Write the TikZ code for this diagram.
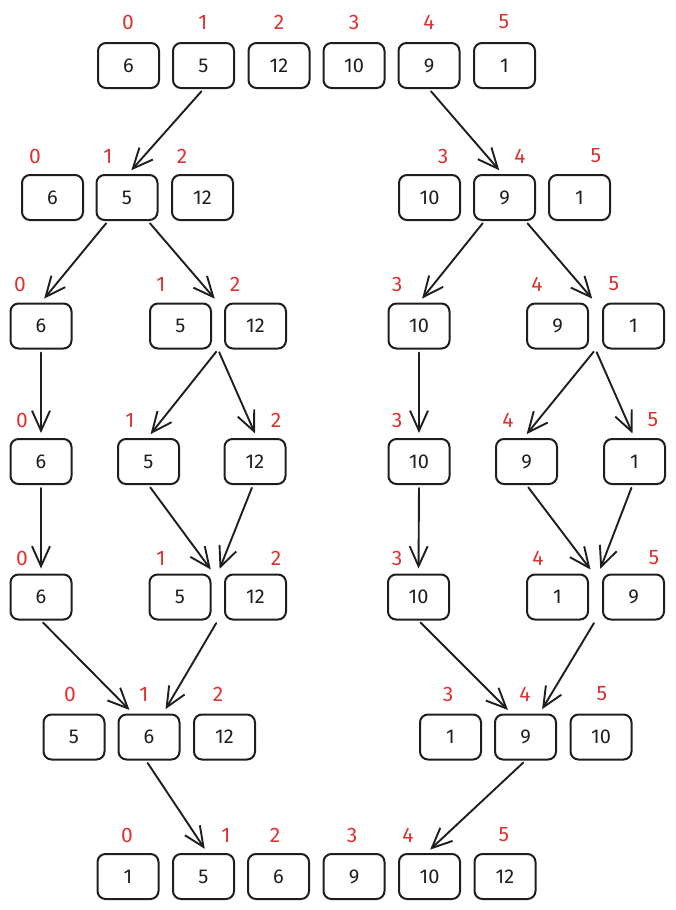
\documentclass[tikz,border=0pt]{standalone}
\usepackage{fontspec}
\setmainfont{Fira Sans}
\usetikzlibrary{arrows.meta,calc}
\definecolor{ink}{HTML}{1E1E1E}
\definecolor{idx}{HTML}{E03131}
\tikzset{
  cell/.style={draw=ink, line width=2pt, rounded corners=8pt, minimum width=61pt, minimum height=45pt, inner sep=0pt, text=ink, font=\fontsize{20}{20}\selectfont},
  lbl/.style={text=idx, inner sep=0pt, font=\fontsize{21}{21}\selectfont},
  conn/.style={draw=ink, line width=1.9pt, line cap=round, -{Straight Barb[length=20pt,width=18pt,line width=1.9pt]}, shorten <=3pt, shorten >=5pt}
}
\begin{document}
\begin{tikzpicture}[x=1pt,y=-1pt]
\useasboundingbox (0,0) rectangle (675,910);
% ---- row 1
\foreach \n/\x/\v in {a0/128.5/6,a1/203.5/5,a2/279/12,a3/354/10,a4/429/9,a5/504.5/1}{
  \node[cell] (\n) at (\x,65.5) {\v};
}
\foreach \n/\x/\t in {la0/128/0,la1/203/1,la2/279/2,la3/354/3,la4/429/4,la5/504/5}{
  \node[lbl] (\n) at (\x,22) {\t};
}
% ---- row 2
\foreach \n/\x/\v in {b0/52.5/6,b1/127/5,b2/202.5/12,b3/429.5/10,b4/504.5/9,b5/579.5/1}{
  \node[cell] (\n) at (\x,197.5) {\v};
}
\foreach \n/\x/\t in {lb0/35/0,lb1/108/1,lb2/182/2,lb3/443/3,lb4/520/4,lb5/596/5}{
  \node[lbl] (\n) at (\x,156) {\t};
}
% ---- row 3
\foreach \n/\x/\v in {c0/41/6,c1/180.5/5,c2/255.5/12,c3/419/10,c4/557.5/9,c5/633.5/1}{
  \node[cell] (\n) at (\x,326) {\v};
}
\foreach \n/\x/\t in {lc0/20/0,lc1/161/1,lc2/235/2,lc3/397/3,lc4/537/4,lc5/614/5}{
  \node[lbl] (\n) at (\x,284) {\t};
}
% ---- row 4
\foreach \n/\x/\v in {d0/41/6,d1/148.5/5,d2/255/12,d3/419/10,d4/526.5/9,d5/634.5/1}{
  \node[cell] (\n) at (\x,461.5) {\v};
}
\foreach \n/\x/\t in {ld0/22/0,ld1/130/1,ld2/276/2,ld3/397/3,ld4/508/4,ld5/653/5}{
  \node[lbl] (\n) at (\x,420) {\t};
}
% ---- row 5
\foreach \n/\x/\v in {e0/41/6,e1/180/5,e2/255.5/12,e3/418.5/10,e4/557.5/1,e5/633.5/9}{
  \node[cell] (\n) at (\x,597) {\v};
}
\foreach \n/\x/\t in {le0/22/0,le1/161/1,le2/276/2,le3/397/3,le4/538/4,le5/654/5}{
  \node[lbl] (\n) at (\x,558) {\t};
}
% ---- row 6
\foreach \n/\x/\v in {f0/74/5,f1/149/6,f2/224.5/12,f3/450.5/1,f4/525.5/9,f5/601/10}{
  \node[cell] (\n) at (\x,737) {\v};
}
\foreach \n/\x/\t in {lf0/70/0,lf1/144/1,lf2/218/2,lf3/448/3,lf4/525/4,lf5/602/5}{
  \node[lbl] (\n) at (\x,694) {\t};
}
% ---- row 7
\foreach \n/\x/\v in {g0/128/1,g1/203.5/5,g2/278.5/6,g3/354/9,g4/429.5/10,g5/505/12}{
  \node[cell] (\n) at (\x,876.5) {\v};
}
\foreach \n/\x/\t in {lg0/127/0,lg1/226/1,lg2/275/2,lg3/352/3,lg4/408/4,lg5/504/5}{
  \node[lbl] (\n) at (\x,835) {\t};
}
% ---- connectors
% row 1 -> row 2
\draw[conn] (a1.south) -- ($(b1.north)+(1,0)$);
\draw[conn] (a4.south) -- ($(b4.north)+(-2,0)$);
% row 2 -> row 3
\draw[conn] ($(b1.south)+(-19,0)$) -- (c0.north);
\draw[conn] ($(b1.south)+(21,0)$) -- ($(c1.north east)!0.5!(c2.north west)$);
\draw[conn] ($(b4.south)+(-20,0)$) -- (c3.north);
\draw[conn] ($(b4.south)+(21,0)$) -- ($(c4.north east)!0.5!(c5.north west)$);
% row 3 -> row 4
\draw[conn] (c0.south) -- (d0.north);
\draw[conn] ($(c1.south east)!0.5!(c2.south west)$) -- ($(d1.north)+(-1,0)$);
\draw[conn] ($(c1.south east)!0.5!(c2.south west)$) -- ($(d2.north)+(2,0)$);
\draw[conn] (c3.south) -- (d3.north);
\draw[conn] ($(c4.south east)!0.5!(c5.south west)$) -- ($(d4.north)+(-3,0)$);
\draw[conn] ($(c4.south east)!0.5!(c5.south west)$) -- (d5.north);
% row 4 -> row 5
\draw[conn] (d0.south) -- (e0.north);
\draw[conn] (d1.south) -- ($(e1.north east)!0.5!(e2.north west)+(-4,0)$);
\draw[conn] ($(d2.south)+(-2,0)$) -- ($(e1.north east)!0.5!(e2.north west)$);
\draw[conn] (d3.south) -- (e3.north);
\draw[conn] (d4.south) -- ($(e4.north east)!0.5!(e5.north west)+(-2,0)$);
\draw[conn] ($(d5.south)+(-2,0)$) -- ($(e4.north east)!0.5!(e5.north west)+(3,0)$);
% row 5 -> row 6
\draw[conn] (e0.south) -- ($(f1.north)+(-16,0)$);
\draw[conn] ($(e1.south east)!0.5!(e2.south west)$) -- ($(f1.north)+(14,0)$);
\draw[conn] (e3.south) -- ($(f4.north)+(-14,0)$);
\draw[conn] ($(e4.south east)!0.5!(e5.south west)$) -- ($(f4.north)+(14,0)$);
% row 6 -> row 7
\draw[conn] ($(f1.south)+(-3,0)$) -- ($(g1.north)+(4,0)$);
\draw[conn] (f4.south) -- ($(g4.north)+(-3,0)$);
\end{tikzpicture}
\end{document}
